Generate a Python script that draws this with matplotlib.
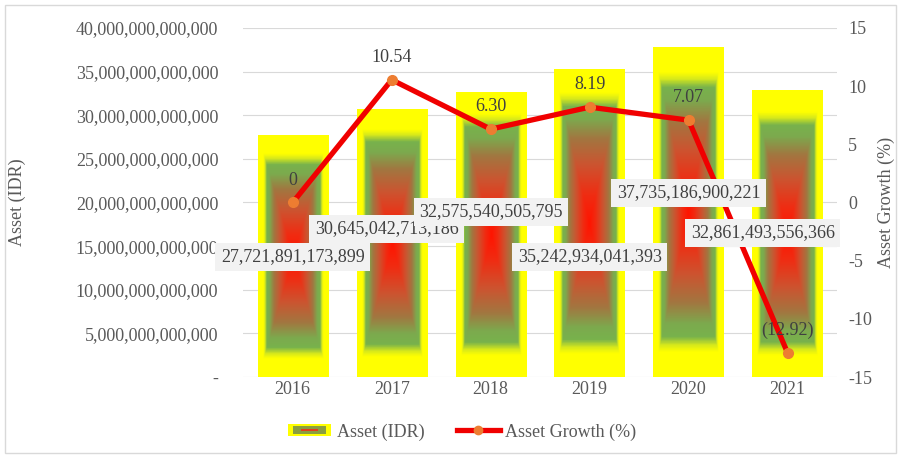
import numpy as np
import matplotlib
matplotlib.use('Agg')
import matplotlib.pyplot as plt
from matplotlib.colors import LinearSegmentedColormap
from matplotlib.legend_handler import HandlerBase
from matplotlib.patches import Rectangle, Patch
from matplotlib.lines import Line2D
from matplotlib.ticker import FuncFormatter

years = ['2016', '2017', '2018', '2019', '2020', '2021']
assets = [27721891173899, 30645042713186, 32575540505795,
          35242934041393, 37735186900221, 32861493556366]
growth = [0, 10.54, 6.30, 8.19, 7.07, -12.92]
growth_labels = ['0', '10.54', '6.30', '8.19', '7.07', '(12.92)']
# where the asset value boxes sit (left-axis value, x shift in categories)
asset_label_y = [13.75e12, 16.96e12, 18.91e12, 13.75e12, 21.09e12, 16.5e12]
asset_label_dx = [0, -0.05, 0, 0, 0, -0.25]

plt.rcParams['font.family'] = ['Liberation Serif', 'DejaVu Serif']
plt.rcParams['axes.unicode_minus'] = False
grey = '#595959'

fig = plt.figure(figsize=(9.01, 4.57), dpi=100)
ax1 = fig.add_axes([0.27, 0.175, 0.659, 0.764])
ax2 = ax1.twinx()

# bar gradient: red centre -> brown -> green -> yellow rim
cmap = LinearSegmentedColormap.from_list('bar', [
    (0.0, '#FF1400'), (0.18, '#F02C12'), (0.38, '#CC5430'),
    (0.55, '#A27640'), (0.68, '#7CAA4E'), (0.76, '#78B24C'),
    (0.81, '#D6E81C'), (0.85, '#FFFF00'), (1.0, '#FFFF00')])

x = np.arange(len(years))
bars = ax1.bar(x, assets, width=0.71, color='none', zorder=2)
gw, gh = 100, 300
u = np.abs(np.linspace(-1, 1, gw))
v = np.abs(np.linspace(-1, 1, gh))
grad = np.maximum(u[None, :], v[:, None])
for b in bars:
    x0, w, h = b.get_x(), b.get_width(), b.get_height()
    ax1.imshow(grad, extent=(x0, x0 + w, 0, h), origin='lower', cmap=cmap,
               vmin=0, vmax=1, aspect='auto', interpolation='bilinear', zorder=2)

ax1.set_xlim(-0.5, len(years) - 0.5)
ax1.set_ylim(0, 40e12)
ax1.set_yticks(np.arange(0, 40.1e12, 5e12))
ax1.yaxis.set_major_formatter(FuncFormatter(lambda val, p: '-' if val == 0 else f'{val:,.0f}'))
ax1.set_xticks(x, years)
ax1.grid(axis='y', color='#D9D9D9', lw=0.8)
ax1.set_axisbelow(True)

ax2.set_ylim(-15, 15)
ax2.set_yticks(np.arange(-15, 16, 5))

for a in (ax1, ax2):
    for s in a.spines.values():
        s.set_visible(False)
    a.tick_params(length=0, labelsize=13, colors=grey)
ax1.tick_params(axis='y', pad=18)
ax1.tick_params(axis='x', pad=3)
ax2.tick_params(axis='y', pad=8)

ax1.set_ylabel('Asset (IDR)', fontsize=13, color=grey, labelpad=36)
ax2.set_ylabel('Asset Growth (%)', fontsize=13, color=grey, labelpad=4)

line, = ax2.plot(x, growth, color='#F00000', lw=3.8, marker='o', ms=7,
                 mfc='#ED7D31', mec='#ED7D31', zorder=5, solid_capstyle='round')

for xi, g, t in zip(x, growth, growth_labels):
    ax2.annotate(t, (xi, g), xytext=(0, 10), textcoords='offset points',
                 ha='center', va='bottom', fontsize=13, color='#404040', zorder=6)

for xi, yv, dx, val in zip(x, asset_label_y, asset_label_dx, assets):
    ax2.text(xi + dx, yv, f'{val:,}', transform=ax1.transData, ha='center',
             va='center', fontsize=13, color='#404040', zorder=7,
             bbox=dict(boxstyle='square,pad=0.3', fc='#F2F2F2', ec='none'))


class GradientHandler(HandlerBase):
    def create_artists(self, legend, orig_handle, xdescent, ydescent,
                       width, height, fontsize, trans):
        x0, y0 = -xdescent, -ydescent
        outer = Rectangle((x0, y0), width, height, fc='#FFFF00', ec='none', transform=trans)
        inner = Rectangle((x0 + width * 0.12, y0 + height * 0.18), width * 0.76,
                          height * 0.64, fc='#8A9E40', ec='none', transform=trans)
        core = Rectangle((x0 + width * 0.3, y0 + height * 0.38), width * 0.4,
                         height * 0.24, fc='#E0401A', ec='none', transform=trans)
        return [outer, inner, core]


bar_proxy = Patch(label='Asset (IDR)')
line_proxy = Line2D([], [], color='#F00000', lw=3.8, marker='o', ms=6,
                    mfc='#ED7D31', mec='#ED7D31', label='Asset Growth (%)')
fig.legend(handles=[bar_proxy, line_proxy], handler_map={bar_proxy: GradientHandler()},
           loc='center', bbox_to_anchor=(0.513, 0.055), ncol=2, frameon=False,
           fontsize=13, labelcolor=grey, handlelength=2.4, handleheight=0.6,
           handletextpad=0.3, columnspacing=1.8)

fig.patches.append(Rectangle((0.006, 0.008), 0.988, 0.98, transform=fig.transFigure,
                             fill=False, ec='#D9D9D9', lw=1))

fig.savefig('out.png', dpi=100)
